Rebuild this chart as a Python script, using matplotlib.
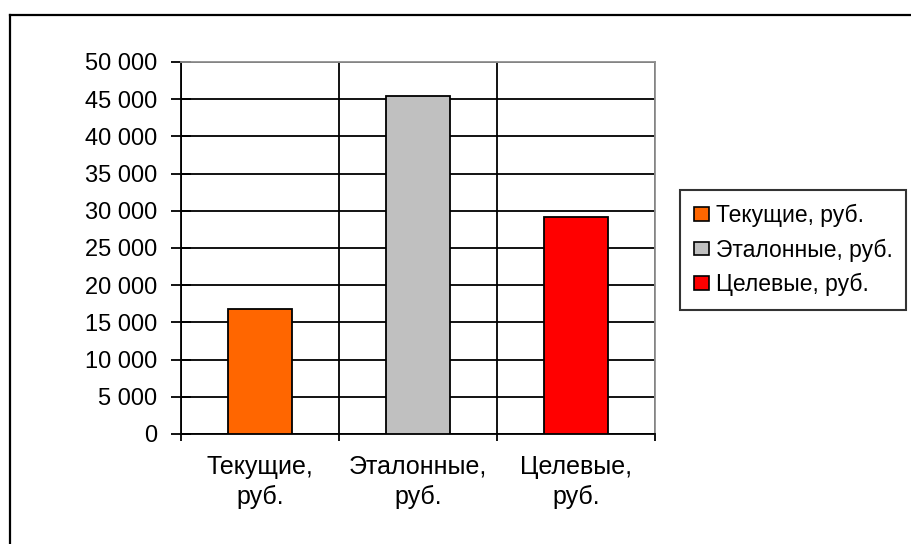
import matplotlib
matplotlib.use("Agg")
import matplotlib.pyplot as plt
from matplotlib.lines import Line2D
from matplotlib.ticker import FuncFormatter, MultipleLocator, FixedLocator

plt.rcParams['font.family'] = ['Liberation Sans', 'DejaVu Sans']

categories = ["Текущие,\nруб.", "Эталонные,\nруб.", "Целевые,\nруб."]
series_names = ["Текущие, руб.", "Эталонные, руб.", "Целевые, руб."]
values = [16850, 45400, 29150]
colors = ["#FF6600", "#C0C0C0", "#FF0000"]

W, H = 911, 544
fig = plt.figure(figsize=(W / 100, H / 100), dpi=100)
ax = fig.add_axes([181 / W, 1 - 434 / H, (655 - 181) / W, (434 - 62) / H])

x = list(range(len(values)))
for i, (v, c, n) in enumerate(zip(values, colors, series_names)):
    ax.bar(i, v, width=0.41, color=c, edgecolor="black", linewidth=1.3, label=n, zorder=3)

ax.set_xlim(-0.5, 2.5)
ax.set_ylim(0, 50000)
ax.yaxis.set_major_locator(MultipleLocator(5000))
ax.yaxis.set_major_formatter(FuncFormatter(lambda v, p: f"{int(v):,}".replace(",", " ")))
ax.set_xticks(x)
ax.set_xticklabels(categories, fontsize=18, linespacing=1.3)
ax.xaxis.set_minor_locator(FixedLocator([-0.5, 0.5, 1.5, 2.5]))
ax.tick_params(axis="x", which="major", length=0, pad=15)
ax.tick_params(axis="x", which="minor", length=5, width=1.3, direction="out", color="black")
ax.tick_params(axis="y", which="major", length=14, width=1.3, direction="inout", labelsize=17, pad=10)

ax.set_axisbelow(True)
ax.grid(axis="y", which="major", color="black", linewidth=1.3)
ax.grid(axis="x", which="minor", color="black", linewidth=1.3)

for s in ["left", "bottom"]:
    ax.spines[s].set_color("black")
    ax.spines[s].set_linewidth(1.3)
for s in ["top", "right"]:
    ax.spines[s].set_color("#909090")
    ax.spines[s].set_linewidth(1.3)

leg = ax.legend(loc="upper left", bbox_to_anchor=(680 / W, 1 - 190 / H),
                bbox_transform=fig.transFigure, fontsize=16.5, frameon=True,
                fancybox=False, edgecolor="black", handlelength=0.65, handleheight=0.55,
                handletextpad=0.3, labelspacing=0.5, borderpad=0.6, borderaxespad=0)
leg.get_frame().set_linewidth(1.5)
for h in leg.legend_handles:
    h.set_linewidth(1.2)

# outer chart frame
fig.add_artist(Line2D([10 / W, 1.0], [1 - 15 / H, 1 - 15 / H], color="black", lw=1.6,
                      transform=fig.transFigure))
fig.add_artist(Line2D([10 / W, 10 / W], [0.0, 1 - 15 / H], color="black", lw=1.6,
                      transform=fig.transFigure))

fig.savefig("out.png", dpi=100)
